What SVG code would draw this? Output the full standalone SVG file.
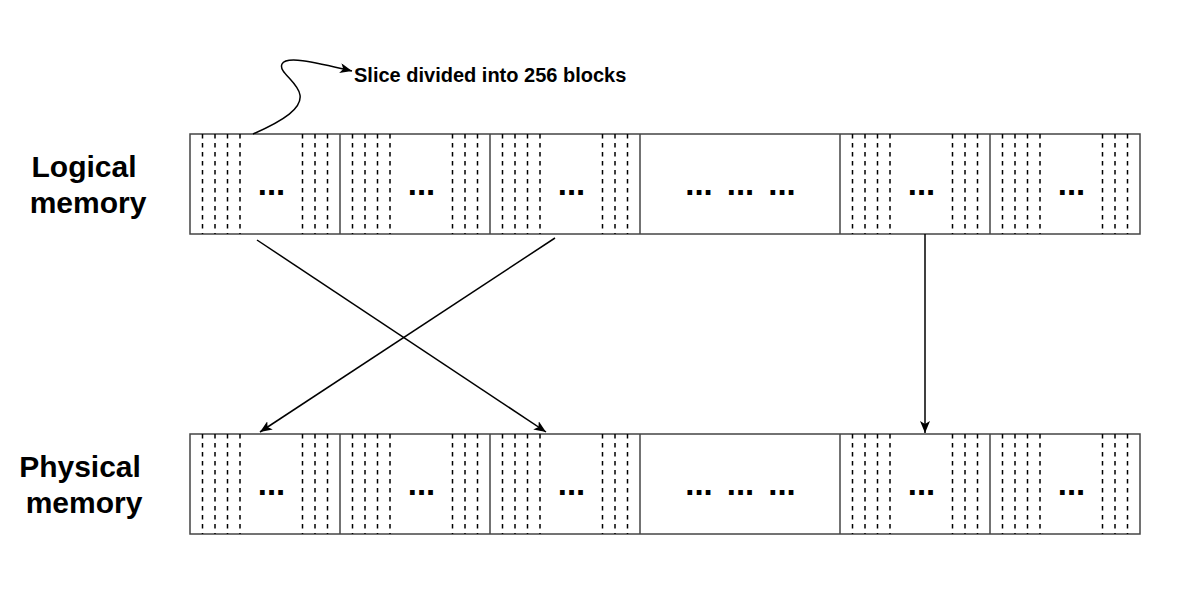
<svg xmlns="http://www.w3.org/2000/svg" xmlns:xlink="http://www.w3.org/1999/xlink" width="1182" height="608" viewBox="0 0 1182 608">
<style>
.frame{fill:#fff;stroke:#444;stroke-width:1.5}
.sep{stroke:#444;stroke-width:1.5}
.dash{stroke:#000;stroke-width:1.5;stroke-dasharray:4.5 4.5}
.dots{font-family:"Liberation Sans",Arial,sans-serif;font-weight:bold;font-size:33px;text-anchor:middle;fill:#000}
.lbl{font-family:"Liberation Sans",Arial,sans-serif;font-weight:bold;font-size:30px;text-anchor:middle;fill:#000}
.note{font-family:"Liberation Sans",Arial,sans-serif;font-weight:bold;font-size:20px;fill:#000}
.conn{fill:none;stroke:#000;stroke-width:1.5}
</style>
<defs>
<marker id="arr" viewBox="0 0 12 10" refX="12" refY="5" markerWidth="12" markerHeight="10" markerUnits="userSpaceOnUse" orient="auto"><path d="M0,0 L12,5 L0,10 L3,5 Z" fill="#000"/></marker>
<g id="blk">
<line class="dash" x1="12.5" y1="0" x2="12.5" y2="100"/>
<line class="dash" x1="25" y1="0" x2="25" y2="100"/>
<line class="dash" x1="37.5" y1="0" x2="37.5" y2="100"/>
<line class="dash" x1="50" y1="0" x2="50" y2="100"/>
<line class="dash" x1="112.5" y1="0" x2="112.5" y2="100"/>
<line class="dash" x1="125" y1="0" x2="125" y2="100"/>
<line class="dash" x1="137.5" y1="0" x2="137.5" y2="100"/>
<text class="dots" x="81.5" y="61">...</text>
</g>
<g id="row">
<rect class="frame" x="0" y="0" width="950" height="100"/>
<use xlink:href="#blk" x="0" y="0"/>
<use xlink:href="#blk" x="150" y="0"/>
<use xlink:href="#blk" x="300" y="0"/>
<use xlink:href="#blk" x="650" y="0"/>
<use xlink:href="#blk" x="800" y="0"/>
<line class="sep" x1="150" y1="0" x2="150" y2="100"/>
<line class="sep" x1="300" y1="0" x2="300" y2="100"/>
<line class="sep" x1="450" y1="0" x2="450" y2="100"/>
<line class="sep" x1="650" y1="0" x2="650" y2="100"/>
<line class="sep" x1="800" y1="0" x2="800" y2="100"/>
<text class="dots" x="509" y="61">...</text>
<text class="dots" x="550.5" y="61">...</text>
<text class="dots" x="592" y="61">...</text>
</g>
</defs>
<rect width="1182" height="608" fill="#fff"/>
<g id="logical-label"><text class="lbl" x="84" y="177">Logical</text><text class="lbl" x="88" y="213">memory</text></g>
<g id="physical-label"><text class="lbl" x="80" y="477">Physical</text><text class="lbl" x="84" y="513">memory</text></g>
<g id="logical-memory"><use xlink:href="#row" x="190" y="134"/></g>
<g id="physical-memory"><use xlink:href="#row" x="190" y="434"/></g>
<g id="note"><text class="note" x="354" y="81.5">Slice divided into 256 blocks</text></g>
<g id="connectors">
<path class="conn" d="M257 240 L546 432" marker-end="url(#arr)"/>
<path class="conn" d="M555 238 L260 432" marker-end="url(#arr)"/>
<path class="conn" d="M925 234 L925 433" marker-end="url(#arr)"/>
<path class="conn" d="M253 134 C285 120 302 108 300 95 C298 82 278 72 282 64 C286 56 310 61 352 71" marker-end="url(#arr)"/>
</g>
</svg>
